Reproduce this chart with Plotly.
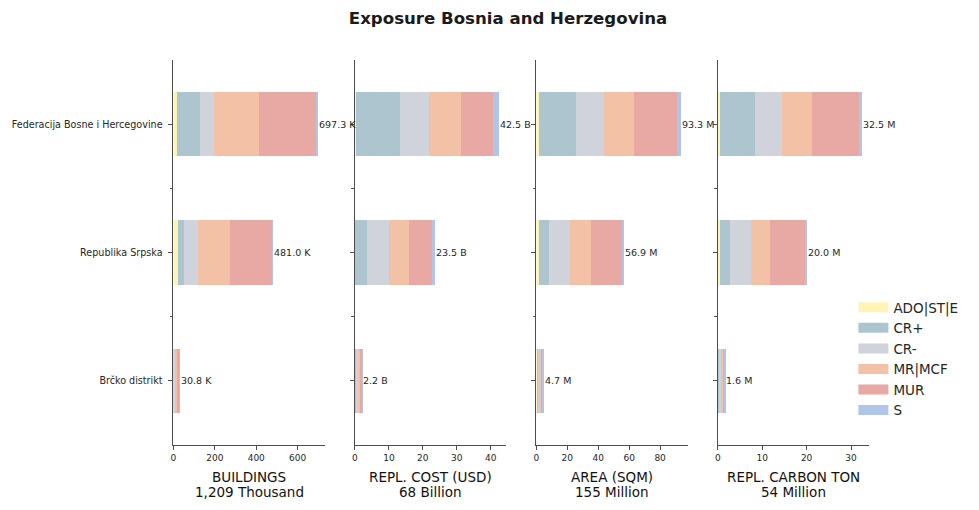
import plotly.graph_objects as go

regions = ["Federacija Bosne i Hercegovine", "Republika Srpska", "Brčko distrikt"]
series = ["ADO|ST|E", "CR+", "CR-", "MR|MCF", "MUR", "S"]
colors = ["#FFF4B8", "#ADC5CF", "#D0D3DC", "#F3C2A6", "#E8A8A3", "#B1C5E8"]

# values per series, ordered like regions
buildings_k = {
    "ADO|ST|E": [16, 21, 1.0],
    "CR+": [111, 29, 8.0],
    "CR-": [67, 67, 5.0],
    "MR|MCF": [221, 155, 9.0],
    "MUR": [278, 208, 7.5],
    "S": [4.3, 1.0, 0.3],
}
cost_b = {
    "ADO|ST|E": [0.4, 0.05, 0.02],
    "CR+": [12.8, 3.65, 0.5],
    "CR-": [8.6, 6.25, 0.45],
    "MR|MCF": [9.5, 5.95, 0.6],
    "MUR": [9.5, 6.7, 0.55],
    "S": [1.7, 0.9, 0.08],
}
area_m = {
    "ADO|ST|E": [1.5, 1.5, 0.1],
    "CR+": [24.1, 6.5, 1.3],
    "CR-": [18.2, 13.7, 1.1],
    "MR|MCF": [19.5, 13.7, 1.1],
    "MUR": [27.4, 20.2, 0.9],
    "S": [2.6, 1.3, 0.2],
}
carbon_m = {
    "ADO|ST|E": [0.5, 0.5, 0.03],
    "CR+": [7.9, 2.27, 0.4],
    "CR-": [6.1, 4.76, 0.35],
    "MR|MCF": [6.6, 4.3, 0.4],
    "MUR": [10.65, 7.72, 0.35],
    "S": [0.75, 0.45, 0.07],
}

panels = [
    ("BUILDINGS", buildings_k, "K", "Thousand", 200),
    ("REPL. COST (USD)", cost_b, "B", "Billion", 10),
    ("AREA (SQM)", area_m, "M", "Million", 20),
    ("REPL. CARBON TON", carbon_m, "M", "Million", 10),
]

W, H = 979, 510
px_dom = [(171, 323), (353, 505), (535, 687), (717, 869)]
y_dom = [(H - 445) / H, (H - 60) / H]

FONT = "DejaVu Sans"
AX = "#4d4d4d"
TXT = "#262626"

fig = go.Figure()
ypos = list(range(len(regions)))
annotations = []

for i, (title, data, suf, unit, dt) in enumerate(panels):
    n = i + 1
    xa = "x" if n == 1 else f"x{n}"
    ya = "y" if n == 1 else f"y{n}"
    for s, c in zip(series, colors):
        fig.add_trace(go.Bar(
            x=data[s], y=ypos, orientation="h", name=s,
            marker=dict(color=c, line=dict(width=0)),
            width=0.5, xaxis=xa, yaxis=ya,
            legendgroup=s, showlegend=False,
            hoverinfo="skip",
        ))
    totals = [sum(data[s][r] for s in series) for r in range(len(regions))]
    grand = sum(totals)
    for r, t in enumerate(totals):
        annotations.append(dict(
            x=t, y=r, xref=xa, yref=ya, text=f"{t:.1f} {suf}",
            showarrow=False, xanchor="left", yanchor="middle", xshift=-1,
            font=dict(family=FONT, size=9.5, color=TXT),
        ))
    d0, d1 = px_dom[i]
    cx = (d0 + d1) / 2 / W
    annotations.append(dict(
        x=cx, y=1 - 477 / H, xref="paper", yref="paper", text=title,
        showarrow=False, xanchor="center", yanchor="middle",
        font=dict(family=FONT, size=13.5, color="#111111"),
    ))
    annotations.append(dict(
        x=cx, y=1 - 492 / H, xref="paper", yref="paper", text=f"{grand:,.0f} {unit}",
        showarrow=False, xanchor="center", yanchor="middle",
        font=dict(family=FONT, size=13.5, color="#111111"),
    ))
    axkey = "xaxis" if n == 1 else f"xaxis{n}"
    aykey = "yaxis" if n == 1 else f"yaxis{n}"
    fig.update_layout(**{
        axkey: dict(
            domain=[d0 / W, d1 / W], anchor=ya,
            range=[0, max(totals) * 1.05],
            showline=True, linecolor=AX, linewidth=1,
            ticks="outside", ticklen=4, tickcolor=AX, dtick=dt, tick0=0,
            showgrid=False, zeroline=False,
            tickfont=dict(family=FONT, size=9, color=TXT),
        ),
        aykey: dict(
            domain=y_dom, anchor=xa,
            range=[2.5, -0.5],
            showline=True, linecolor=AX, linewidth=1,
            ticks="outside", ticklen=4, tickcolor=AX,
            tickvals=ypos,
            ticktext=regions if n == 1 else ["", "", ""],
            showticklabels=(n == 1),
            ticklabelstandoff=4,
            minor=dict(tickvals=[0.5, 1.5], ticks="outside", ticklen=2.5, tickcolor=AX),
            showgrid=False, zeroline=False,
            tickfont=dict(family=FONT, size=9.6, color=TXT),
        ),
    })

# legend entries (wide swatches as in the reference)
for s, c in zip(series, colors):
    fig.add_trace(go.Scatter(
        x=[None], y=[None], mode="lines", name=s,
        line=dict(color=c, width=10), legendgroup=s, showlegend=True,
        hoverinfo="skip",
    ))

fig.update_layout(
    width=W, height=H,
    barmode="stack",
    margin=dict(l=0, r=0, t=0, b=0),
    paper_bgcolor="white", plot_bgcolor="white",
    title=dict(text="<b>Exposure Bosnia and Herzegovina</b>", x=508 / W, xanchor="center",
               y=1 - 18 / H, yanchor="middle",
               font=dict(family=FONT, size=16.6, color="#1a1a1a")),
    legend=dict(x=853 / W, y=1 - 292 / H, xanchor="left", yanchor="top",
                font=dict(family=FONT, size=13.5, color=TXT),
                tracegroupgap=0, itemwidth=30, bgcolor="rgba(0,0,0,0)"),
    annotations=annotations,
    font=dict(family=FONT),
)

fig.write_html("out.html")
